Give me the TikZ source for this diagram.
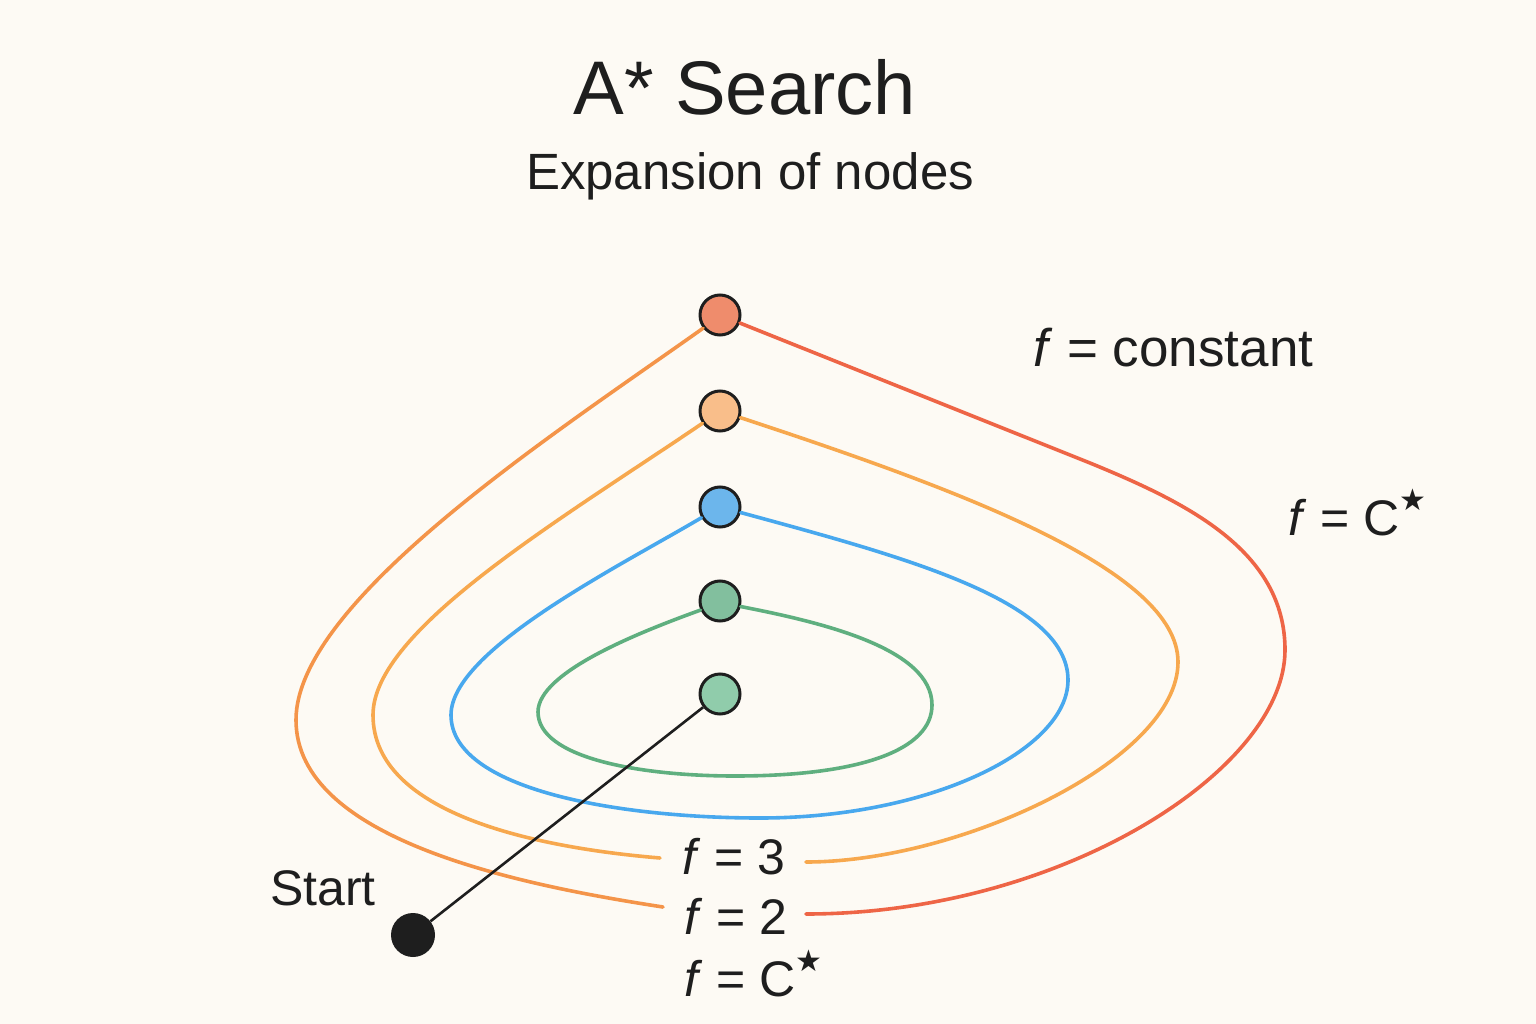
\documentclass[tikz,border=0pt]{standalone}
\usepackage{fontspec}
\setmainfont{Liberation Sans}
\newfontfamily\symfont{DejaVu Sans}
\definecolor{bgc}{HTML}{FDFAF4}
\definecolor{inkc}{HTML}{1E1E1E}
\definecolor{c1}{HTML}{EF8C6C}
\definecolor{c2}{HTML}{F9BE8A}
\definecolor{c3}{HTML}{6CB6EC}
\definecolor{c4}{HTML}{82BF9E}
\definecolor{c5}{HTML}{90CCAB}
\definecolor{lgreen}{HTML}{5FAF7F}
\definecolor{lblue}{HTML}{48A8EE}
\definecolor{lorange}{HTML}{F7A84E}
\definecolor{louter}{HTML}{F49449}
\definecolor{lred}{HTML}{EE6546}
\newcommand{\cstar}{C\raisebox{0.5em}{\symfont\fontsize{30}{30}\selectfont ★}}
\begin{document}
\begin{tikzpicture}[x=1pt,y=-1pt,
  dot/.style={circle,draw=inkc,line width=3pt,minimum size=40pt,inner sep=0pt},
  contour/.style={line width=3.6pt,line cap=round},
  lbl/.style={font=\fontsize{50}{56}\selectfont,text=inkc,inner sep=0pt,anchor=base}]
\fill[bgc] (0,0) rectangle (1536,1024);
\useasboundingbox (0,0) rectangle (1536,1024);

% title
\node[lbl,font=\fontsize{76}{82}\selectfont] (title) at (745,115) {A* Search};
\node[lbl,font=\fontsize{51}{56}\selectfont] (sub) at (750,190) {Expansion of nodes};

% nodes
\node[dot,fill=c1] (n1) at (720,315) {};
\node[dot,fill=c2] (n2) at (720,411) {};
\node[dot,fill=c3] (n3) at (720,507) {};
\node[dot,fill=c4] (n4) at (720,601) {};
\node[dot,fill=c5] (n5) at (720,694) {};
\node[circle,fill=inkc,minimum size=44pt,inner sep=0pt] (start) at (413,935) {};

% labels
\node[lbl,anchor=base east] (startlbl) at (376,905) {Start};
\node[lbl,anchor=base west,font=\fontsize{53}{58}\selectfont] (fconst) at (1033,366) {\textit{f} = constant};
\node[lbl,anchor=base west] (fcr) at (1288,535) {\textit{f} = \cstar};
\node[lbl] (f3) at (734,874) {\textit{f} = 3};
\node[lbl] (f2) at (736,934) {\textit{f} = 2};
\node[lbl,anchor=base west] (fc) at (684,996) {\textit{f} = \cstar};

% green contour
\draw[contour,lgreen] (n4.205) .. controls (640,632) and (538,672) .. (538,712)
  .. controls (538,758) and (640,776) .. (735,776)
  .. controls (860,776) and (932,750) .. (932,705)
  .. controls (932,648) and (820,622) .. (n4.-15);
% blue contour
\draw[contour,lblue] (n3.210) .. controls (620,566) and (451,650) .. (451,715)
  .. controls (451,790) and (620,818) .. (760,818)
  .. controls (930,818) and (1068,750) .. (1068,680)
  .. controls (1068,600) and (900,556) .. (n3.-15);
% f = 3 contour
\draw[contour,lorange] (n2.215) .. controls (560,520) and (373,630) .. (373,715)
  .. controls (373,815) and (540,848) .. (660,858);
\draw[contour,lorange] (806,862) .. controls (960,862) and (1178,760) .. (1178,662)
  .. controls (1178,570) and (960,490) .. (n2.-18);
% outer contour
\draw[contour,louter] (n1.218) .. controls (560,430) and (296,600) .. (296,720)
  .. controls (296,840) and (520,885) .. (663,907);
\draw[contour,lred] (806,914) .. controls (1060,914) and (1285,770) .. (1285,650)
  .. controls (1285,550) and (1185,502) .. (1090,463)
  -- (n1.-22);

% path from start
\draw[inkc,line width=2.6pt] (start) -- (n5);
\end{tikzpicture}
\end{document}
